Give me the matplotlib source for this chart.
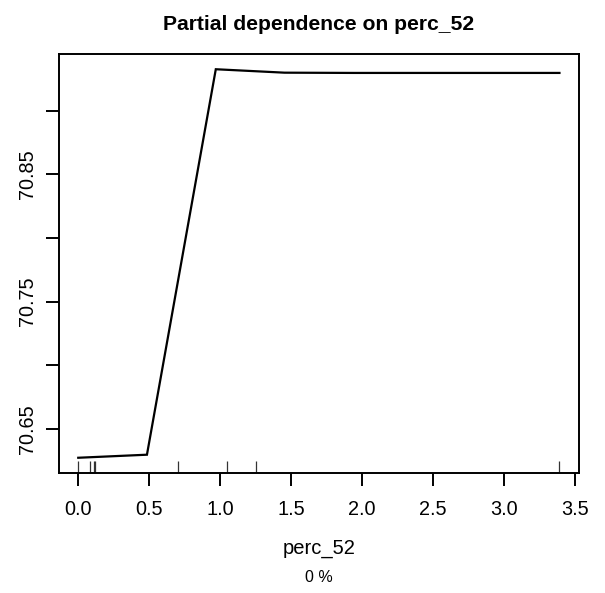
import matplotlib
matplotlib.use("Agg")
import matplotlib.pyplot as plt
import matplotlib.transforms as mtransforms
import numpy as np

plt.rcParams["font.family"] = ["Liberation Sans", "DejaVu Sans"]

# Partial dependence grid and predicted response
x_grid = [0.0, 0.484, 0.969, 1.453, 1.937, 2.421, 2.906, 3.39]
y_pd = [70.6272, 70.6296, 70.9326, 70.9299, 70.9297, 70.9297, 70.9297, 70.9297]

# Observed values shown as a rug along the x-axis
rug_x = [0.0, 0.08, 0.11, 0.12, 0.70, 1.05, 1.25, 3.39]

x_ticks = [0.0, 0.5, 1.0, 1.5, 2.0, 2.5, 3.0, 3.5]
x_tick_labels = ["0.0", "0.5", "1.0", "1.5", "2.0", "2.5", "3.0", "3.5"]
y_ticks = [70.65, 70.70, 70.75, 70.80, 70.85, 70.90]
y_tick_labels = ["70.65", "", "70.75", "", "70.85", ""]

title = "Partial dependence on perc_52"
x_label = "perc_52"
sub_label = "0 %"

W, H = 605, 593
fig = plt.figure(figsize=(W / 100, H / 100), dpi=100)
left, right, top, bottom = 59, 578.7, 53.7, 473.3
ax = fig.add_axes([left / W, 1 - bottom / H, (right - left) / W, (bottom - top) / H])

ax.plot(x_grid, y_pd, color="black", linewidth=1.6, solid_joinstyle="miter")

# R-style axis padding: 4% of the data range on each side
xr = max(x_grid) - min(x_grid)
yr = max(y_pd) - min(y_pd)
ax.set_xlim(min(x_grid) - 0.04 * xr, max(x_grid) + 0.04 * xr)
ax.set_ylim(min(y_pd) - 0.04 * yr, max(y_pd) + 0.04 * yr)

trans = mtransforms.blended_transform_factory(ax.transData, ax.transAxes)
ax.vlines(rug_x, 0, 0.03, transform=trans, color="#333333", linewidth=0.9)

ax.set_xticks(x_ticks)
ax.set_xticklabels(x_tick_labels)
ax.set_yticks(y_ticks)
ax.set_yticklabels(y_tick_labels, rotation=90, va="center")

for s in ax.spines.values():
    s.set_linewidth(1.4)
ax.tick_params(axis="both", length=9.5, width=1.4, labelsize=14.3, color="black")
ax.tick_params(axis="x", pad=10)
ax.tick_params(axis="y", pad=6)

cx = 0.5 * (left + right) / W
fig.text(cx, 1 - 24 / H, title, ha="center", va="center",
         fontsize=15.2, fontweight="bold")
fig.text(cx, 1 - 549 / H, x_label, ha="center", va="center", fontsize=14.5)
fig.text(cx, 1 - 577 / H, sub_label, ha="center", va="center", fontsize=11.5)

fig.savefig("out.png", dpi=100)
